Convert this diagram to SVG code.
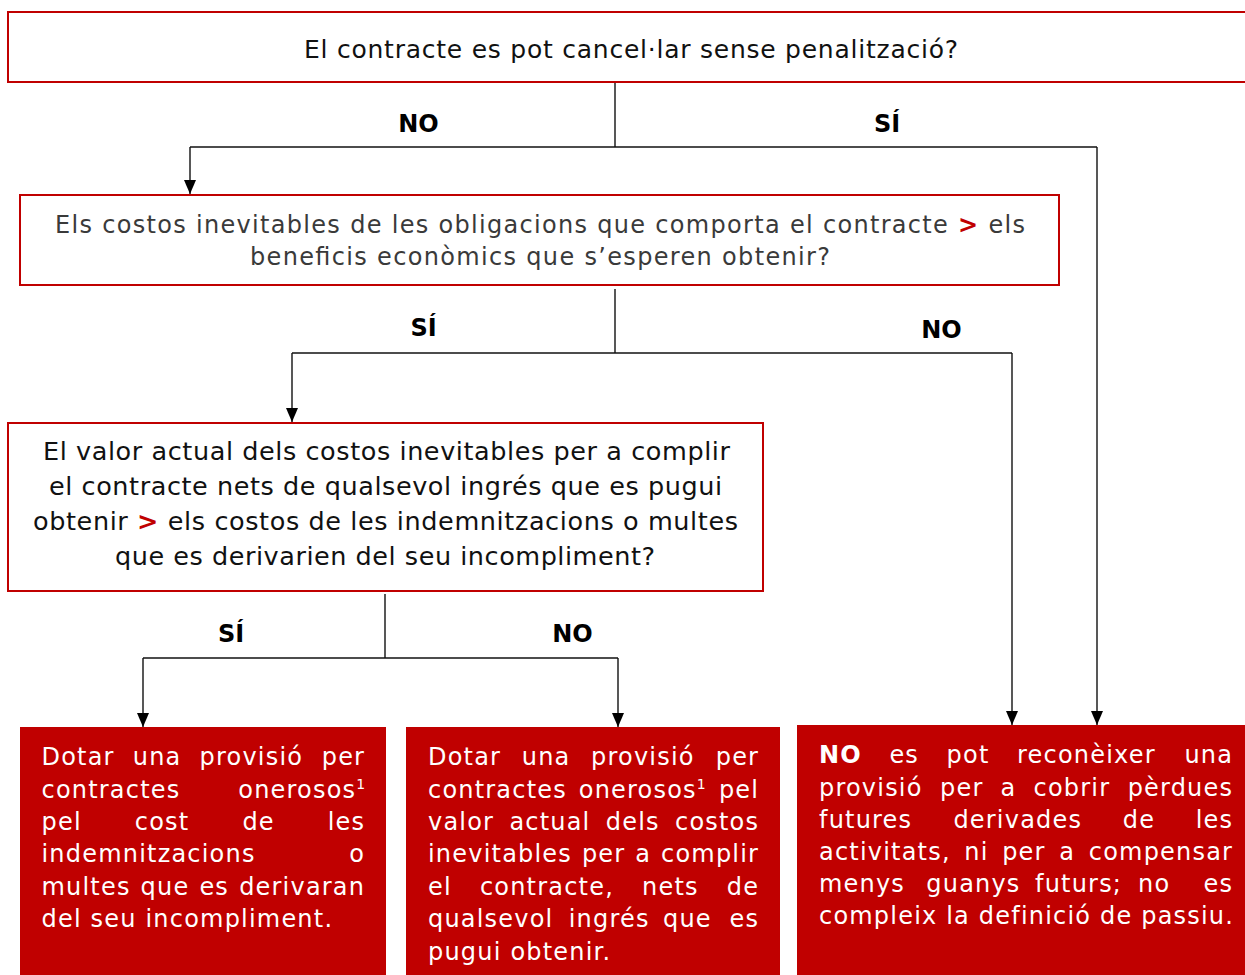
<svg xmlns="http://www.w3.org/2000/svg" width="1245" height="975" viewBox="0 0 1245 975">
<style>
.q{fill:#fff;stroke:#C00000;stroke-width:2}
.r{fill:#C00000;stroke:none}
.t{font-family:"DejaVu Sans",Verdana,sans-serif;fill:#111}
.g{fill:#3a3a3a}
.gt{fill:#C00000;font-weight:bold}
.lb{font-family:"DejaVu Sans",Verdana,sans-serif;font-weight:bold;font-size:24px;fill:#000;text-anchor:middle}
.w{font-family:"DejaVu Sans",Verdana,sans-serif;font-size:24px;letter-spacing:1.2px;fill:#fff}
.e{text-anchor:end}
.sup{font-size:14px;letter-spacing:0}
.c{fill:none;stroke:#111;stroke-width:1.4}
</style>
<defs>
<marker id="ah" viewBox="0 0 14 12" refX="14" refY="6" markerWidth="14" markerHeight="12" markerUnits="userSpaceOnUse" orient="auto">
<path d="M0,0 L14,6 L0,12 z" fill="#000"/>
</marker>
</defs>

<g id="connectors">
<path class="c" d="M615,83 V147"/>
<path class="c" d="M190,147 H1097"/>
<path class="c" d="M190,147 V194" marker-end="url(#ah)"/>
<path class="c" d="M1097,147 V725" marker-end="url(#ah)"/>
<path class="c" d="M615,289 V353"/>
<path class="c" d="M292,353 H1012"/>
<path class="c" d="M292,353 V422" marker-end="url(#ah)"/>
<path class="c" d="M1012,353 V725" marker-end="url(#ah)"/>
<path class="c" d="M385,594 V658"/>
<path class="c" d="M143,658 H618"/>
<path class="c" d="M143,658 V727" marker-end="url(#ah)"/>
<path class="c" d="M618,658 V727" marker-end="url(#ah)"/>
<text class="lb" x="418.5" y="132">NO</text>
<text class="lb" x="887" y="132">SÍ</text>
<text class="lb" x="423.5" y="336">SÍ</text>
<text class="lb" x="941.5" y="338">NO</text>
<text class="lb" x="231" y="642">SÍ</text>
<text class="lb" x="572.5" y="642">NO</text>
</g>

<g id="q1">
<rect class="q" x="8" y="12" width="1250" height="70"/>
<text class="t" x="304" y="58" font-size="25" textLength="654">El contracte es pot cancel·lar sense penalització?</text>
</g>

<g id="q2">
<rect class="q" x="20" y="195" width="1039" height="90"/>
<text class="t g" x="55" y="233" font-size="24" textLength="970">Els costos inevitables de les obligacions que comporta el contracte <tspan class="gt">&gt;</tspan> els</text>
<text class="t g" x="250" y="265" font-size="24" textLength="580">beneficis econòmics que s’esperen obtenir?</text>
</g>

<g id="q3">
<rect class="q" x="8" y="423" width="755" height="168"/>
<text class="t" x="43" y="460" font-size="25.5" textLength="687">El valor actual dels costos inevitables per a complir</text>
<text class="t" x="49" y="495" font-size="25.5" textLength="673">el contracte nets de qualsevol ingrés que es pugui</text>
<text class="t" x="33" y="530" font-size="25.5" textLength="705">obtenir <tspan class="gt">&gt;</tspan> els costos de les indemnitzacions o multes</text>
<text class="t" x="115" y="565" font-size="25.5" textLength="540">que es derivarien del seu incompliment?</text>
</g>

<g id="a1">
<rect class="r" x="20" y="727" width="366" height="260"/>
<text class="w" y="765"><tspan x="41.5">Dotar</tspan><tspan x="132.8">una</tspan><tspan x="199.6">provisió</tspan></text>
<text class="w e" x="365.2" y="765">per</text>
<text class="w" x="41.5" y="797.5">contractes</text>
<text class="w e" x="365.2" y="797.5">onerosos<tspan class="sup" dy="-9">1</tspan></text>
<text class="w" y="830"><tspan x="41.5">pel</tspan><tspan x="134.8">cost</tspan><tspan x="242.4">de</tspan></text>
<text class="w e" x="365.2" y="830">les</text>
<text class="w" x="41.5" y="862">indemnitzacions</text>
<text class="w e" x="365.2" y="862">o</text>
<text class="w" y="895"><tspan x="41.5">multes</tspan><tspan x="140.6">que</tspan><tspan x="199.4">es</tspan></text>
<text class="w e" x="365.2" y="895">derivaran</text>
<text class="w" x="41.5" y="927">del seu incompliment.</text>
</g>

<g id="a2">
<rect class="r" x="406" y="727" width="374" height="260"/>
<text class="w" y="765"><tspan x="428">Dotar</tspan><tspan x="521.8">una</tspan><tspan x="591.1">provisió</tspan></text>
<text class="w e" x="759.2" y="765">per</text>
<text class="w" y="797.5"><tspan x="428">contractes</tspan><tspan x="578.8">onerosos</tspan><tspan class="sup" dy="-9">1</tspan></text>
<text class="w e" x="759.2" y="797.5">pel</text>
<text class="w" y="830"><tspan x="428">valor</tspan><tspan x="509.4">actual</tspan><tspan x="605.8">dels</tspan></text>
<text class="w e" x="759.2" y="830">costos</text>
<text class="w" y="862"><tspan x="428">inevitables</tspan><tspan x="581.9">per</tspan><tspan x="635.3">a</tspan></text>
<text class="w e" x="759.2" y="862">complir</text>
<text class="w" y="895"><tspan x="428">el</tspan><tspan x="479.9">contracte,</tspan><tspan x="642.1">nets</tspan></text>
<text class="w e" x="759.2" y="895">de</text>
<text class="w" y="927"><tspan x="428">qualsevol</tspan><tspan x="568.7">ingrés</tspan><tspan x="663">que</tspan></text>
<text class="w e" x="759.2" y="927">es</text>
<text class="w" x="428" y="960">pugui obtenir.</text>
</g>

<g id="a3">
<rect class="r" x="797" y="725" width="460" height="262"/>
<text class="w" y="763"><tspan x="819" font-weight="bold">NO</tspan><tspan x="889.4">es</tspan><tspan x="946.6">pot</tspan><tspan x="1017">reconèixer</tspan></text>
<text class="w e" x="1233.2" y="763">una</text>
<text class="w" y="795.5"><tspan x="819">provisió</tspan><tspan x="940.1">per</tspan><tspan x="1000.6">a</tspan><tspan x="1033.5">cobrir</tspan></text>
<text class="w e" x="1233.2" y="795.5">pèrdues</text>
<text class="w" y="828"><tspan x="819">futures</tspan><tspan x="953.4">derivades</tspan><tspan x="1122.8">de</tspan></text>
<text class="w e" x="1233.2" y="828">les</text>
<text class="w" y="860"><tspan x="819">activitats,</tspan><tspan x="964.3">ni</tspan><tspan x="1002.2">per</tspan><tspan x="1059.3">a</tspan></text>
<text class="w e" x="1233.2" y="860">compensar</text>
<text class="w" y="892"><tspan x="819">menys</tspan><tspan x="926.3">guanys</tspan><tspan x="1035">futurs;</tspan><tspan x="1138">no</tspan></text>
<text class="w e" x="1233.2" y="892">es</text>
<text class="w" x="819" y="924">compleix la definició de passiu.</text>
</g>
</svg>
